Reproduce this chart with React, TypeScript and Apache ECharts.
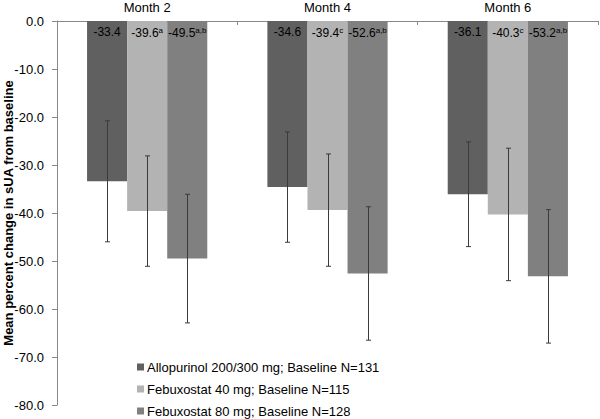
import React, { useEffect, useRef } from "react";
import * as echarts from "echarts";

const months = ["Month 2", "Month 4", "Month 6"];
const seriesNames = [
  "Allopurinol 200/300 mg; Baseline N=131",
  "Febuxostat 40 mg; Baseline N=115",
  "Febuxostat 80 mg; Baseline N=128",
];
const allopurinol = [-33.4, -34.6, -36.1];
const febux40 = [-39.6, -39.4, -40.3];
const febux80 = [-49.5, -52.6, -53.2];
const allopurinolSD = [12.6, 11.5, 10.9];
const febux40SD = [11.5, 11.7, 13.8];
const febux80SD = [13.4, 13.9, 13.9];
const allopurinolSup = ["", "", ""];
const febux40Sup = ["a", "c", "c"];
const febux80Sup = ["a,b", "a,b", "a,b"];
const yTicks = [0, -10, -20, -30, -40, -50, -60, -70, -80];
const colors = ["#606060", "#b3b3b3", "#808080"];

export default function App() {
  const ref = useRef<HTMLDivElement>(null);
  useEffect(() => {
    if (!ref.current) return;
    const chart = echarts.init(ref.current, null, { renderer: "svg" });
    const values = [allopurinol, febux40, febux80];
    const sds = [allopurinolSD, febux40SD, febux80SD];
    const sups = [allopurinolSup, febux40Sup, febux80Sup];
    const font = "'Liberation Sans', Arial, sans-serif";

    const barSeries = values.map((vals, si) => ({
      type: "bar",
      name: seriesNames[si],
      data: vals,
      barGap: "0%",
      barCategoryGap: "33.33%",
      itemStyle: { color: colors[si] },
      label: {
        show: true,
        position: "insideTop",
        distance: 5,
        formatter: (p: any) => {
          const s = sups[si][p.dataIndex];
          return s ? `{v|${p.value.toFixed(1)}}{s|${s}}` : `{v|${p.value.toFixed(1)}}`;
        },
        rich: {
          v: { fontFamily: font, fontSize: 12, color: "#000" },
          s: { fontFamily: font, fontSize: 8, color: "#000", verticalAlign: "top", padding: [0, 0, 6, 0] },
        },
      },
    }));

    const errData: any[] = [];
    values.forEach((vals, si) => {
      vals.forEach((v, ci) => {
        errData.push([ci, v - sds[si][ci], v + sds[si][ci], si]);
      });
    });

    const errSeries = {
      type: "custom",
      name: "err",
      data: errData,
      z: 10,
      renderItem: (params: any, api: any) => {
        const ci = api.value(0);
        const lo = api.value(1);
        const hi = api.value(2);
        const si = api.value(3);
        const catW = api.size([1, 0])[0];
        const barW = (catW * (2 / 3)) / 3;
        const pLo = api.coord([ci, lo]);
        const pHi = api.coord([ci, hi]);
        const x = Math.round(pLo[0] + (si - 1) * barW) + 0.5;
        const cap = 2.5;
        const style = { stroke: "#3a3a3a", lineWidth: 1 };
        return {
          type: "group",
          children: [
            { type: "line", shape: { x1: x, y1: pHi[1], x2: x, y2: pLo[1] }, style },
            { type: "line", shape: { x1: x - cap, y1: pHi[1], x2: x + cap, y2: pHi[1] }, style },
            { type: "line", shape: { x1: x - cap, y1: pLo[1], x2: x + cap, y2: pLo[1] }, style },
          ],
        };
      },
    };

    chart.setOption({
      animation: false,
      textStyle: { fontFamily: font },
      grid: { left: 57, right: 2, top: 21, bottom: 14, containLabel: false, outerBoundsMode: "none" },
      legend: {
        data: seriesNames,
        orient: "vertical",
        left: 137,
        top: 360,
        padding: 0,
        icon: "rect",
        itemWidth: 7,
        itemHeight: 7,
        itemGap: 8,
        textStyle: { fontFamily: font, fontSize: 13, lineHeight: 14, color: "#000", padding: [0, 0, 0, -2] },
      },
      xAxis: {
        type: "category",
        data: months,
        position: "top",
        axisLine: { lineStyle: { color: "#888", width: 1 } },
        axisTick: { show: true, inside: true, length: 4, lineStyle: { color: "#888" } },
        axisLabel: { fontFamily: font, fontSize: 13, color: "#000", margin: 7 },
        splitLine: { show: false },
      },
      yAxis: {
        type: "value",
        min: -80,
        max: 0,
        interval: 10,
        name: "Mean percent change in sUA from baseline",
        nameLocation: "middle",
        nameRotate: 90,
        nameGap: 42,
        nameMoveOverlap: false,
        nameTextStyle: { fontFamily: font, fontSize: 13, fontWeight: "bold", color: "#000" },
        axisLine: { show: true, lineStyle: { color: "#888", width: 1 } },
        axisTick: { show: true, length: 5, lineStyle: { color: "#888" } },
        axisLabel: {
          fontFamily: font,
          fontSize: 13,
          color: "#000",
          margin: 13,
          formatter: (v: number) => (yTicks.includes(v) ? v.toFixed(1) : ""),
        },
        splitLine: { show: false },
      },
      series: [...barSeries, errSeries],
    });
    return () => chart.dispose();
  }, []);
  return <div ref={ref} style={{ width: 600, height: 419, position: "absolute", left: 0, top: 0 }} />;
}
